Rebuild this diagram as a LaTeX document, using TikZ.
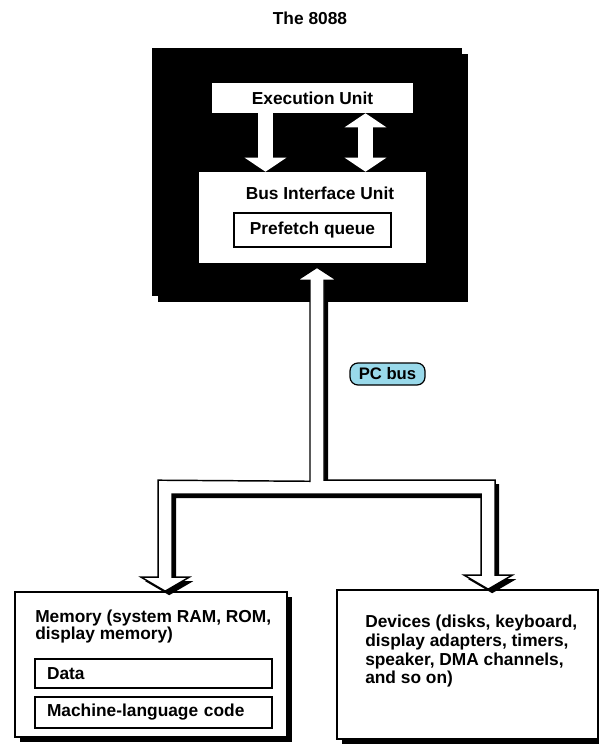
\documentclass[tikz,border=0pt]{standalone}
\usepackage{fontspec}
\setmainfont{Liberation Sans}
\usetikzlibrary{arrows.meta,calc,shadows}
\definecolor{busblue}{HTML}{99D9EA}
\tikzset{
  lbl/.style={font=\bfseries\fontsize{13}{15}\selectfont, inner sep=0pt},
  unitbox/.style={fill=white, inner sep=0pt},
  framebox/.style={draw, line width=1.2pt, fill=white},
  boxshadow/.style={drop shadow={shadow xshift=3.75pt, shadow yshift=-3.75pt, fill=black, opacity=1}},
  chipbox/.style={fill=black, inner sep=0pt, drop shadow={shadow xshift=4.5pt, shadow yshift=-4.5pt, fill=black, opacity=1}},
  wharrow/.style={draw=white, line width=11.25pt, -{Triangle[width=30.75pt,length=10.5pt]}},
  busarrow/.style={fill=white, draw, line width=1.1pt, drop shadow={shadow xshift=3pt, shadow yshift=-3pt, fill=black, opacity=1}},
}
\begin{document}
\begin{tikzpicture}[x=0.75pt,y=-0.75pt]
  \useasboundingbox (0,0) rectangle (599,746);
  \node[lbl] (title) at (310,18.5) {The 8088};
  \node[chipbox, minimum width=232.5pt, minimum height=186pt] (chip) at (307,172) {};
  \node[unitbox, lbl, minimum width=150.75pt, minimum height=22.5pt] (eu) at (312.5,98) {Execution Unit};
  \node[unitbox, minimum width=170.25pt, minimum height=68.25pt] (biu) at (312.5,217.5) {};
  \node[lbl] (biutext) at (320,193.5) {Bus Interface Unit};
  \node[lbl, framebox, minimum width=117.75pt, minimum height=25.5pt] (pq) at (312.5,230) {Prefetch queue};
  \draw[wharrow] ($(eu.south)+(-47,0)$) -- ($(biu.north)+(-47,0)$);
  \draw[wharrow, {Triangle[width=30.75pt,length=10.5pt]}-{Triangle[width=30.75pt,length=10.5pt]}] ($(eu.south)+(53,0)$) -- ($(biu.north)+(53,0)$);
  % memory and devices
  \node[framebox, boxshadow, minimum width=204pt, minimum height=108.75pt] (mem) at (151,664.5) {};
  \node[lbl, anchor=north west, align=left, font=\bfseries\fontsize{13}{12.5}\selectfont] (memtext) at (35,610) {Memory (system RAM, ROM,\\display memory)};
  \node[lbl, framebox, inner xsep=9pt, text width=159.75pt, align=left, minimum height=21.75pt] (data) at (153.5,673.5) {Data};
  \node[lbl, framebox, inner xsep=9pt, text width=159.75pt, align=left, minimum height=23.25pt] (code) at (153.5,712.5) {Machine-language code};
  \node[framebox, boxshadow, minimum width=195.75pt, minimum height=111.75pt] (dev) at (467.5,664.5) {};
  \node[lbl, anchor=north west, align=left, font=\bfseries\fontsize{13}{14}\selectfont] (devtext) at (365,615) {Devices (disks, keyboard,\\display adapters, timers,\\speaker, DMA channels,\\and so on)};
  % the bus
  \coordinate (busout) at ($(biu.south)+(4.5,4)$);
  \coordinate (memin) at ($(mem.north west)+(151,0)$);
  \coordinate (devin) at ($(dev.north west)+(152,0)$);
  \path[busarrow] (busout) -- ++(20,13) -- ++(-13,0) |- ($(devin)+(7,-109)$)
    -- ($(devin)+(7,-14)$) -- ++(17,0) -- (devin) -- ++(-24,-14) -- ++(17,0)
    -- ($(devin)+(-7,-95)$) -- ($(memin)+(7,-97)$)
    -- ($(memin)+(7,-14)$) -- ++(17,0) -- (memin) -- ++(-24,-14) -- ++(17,0)
    -- ($(memin)+(-7,-111)$) -- ($(busout)+(-7,214)$)
    -- ($(busout)+(-7,13)$) -- ++(-13,0) -- cycle;
  \node[lbl, draw, line width=0.9pt, fill=busblue, rounded corners=6pt, minimum width=56.25pt, minimum height=16.5pt, font=\bfseries\fontsize{12.5}{14}\selectfont] (pc) at (387.5,374) {PC bus};
\end{tikzpicture}
\end{document}
